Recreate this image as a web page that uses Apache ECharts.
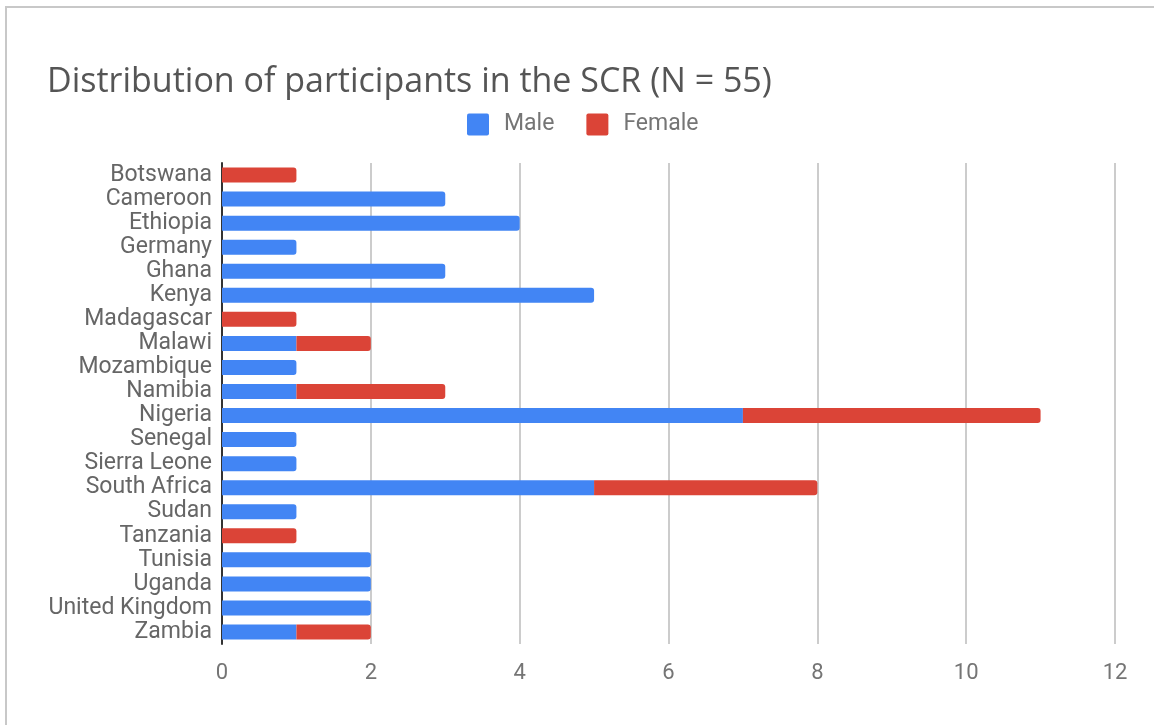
<!DOCTYPE html>
<html>
<head>
<meta charset="utf-8">
<title>Distribution of participants in the SCR</title>
<script src="https://cdn.jsdelivr.net/npm/echarts@6/dist/echarts.min.js"></script>
<style>
    html, body { margin: 0; padding: 0; background: #fff; }
    .frame {
        position: absolute; left: 5px; top: 6px; width: 1149px; height: 719px;
        border-top: 2px solid #c8c8c8; border-left: 2px solid #c8c8c8;
        box-sizing: border-box;
    }
    .chart { position: absolute; left: 0; top: 0; width: 1154px; height: 725px; }
</style>
</head>
<body>
<div class="frame"></div>
<div class="chart"></div>
<script>
// 国家 (从上到下)
var countries = ['Botswana', 'Cameroon', 'Ethiopia', 'Germany', 'Ghana', 'Kenya', 'Madagascar',
    'Malawi', 'Mozambique', 'Namibia', 'Nigeria', 'Senegal', 'Sierra Leone', 'South Africa',
    'Sudan', 'Tanzania', 'Tunisia', 'Uganda', 'United Kingdom', 'Zambia'];
var male   = [0, 3, 4, 1, 3, 5, 0, 1, 1, 1, 7, 1, 1, 5, 1, 0, 2, 2, 2, 1];
var female = [1, 0, 0, 0, 0, 0, 1, 1, 0, 2, 4, 0, 0, 3, 0, 1, 0, 0, 0, 1];
var xTicks = [0, 2, 4, 6, 8, 10, 12];

var chart = echarts.init(document.querySelector('.chart'));

// 最右边那段圆角
var round = [0, 3, 3, 0];
var maleData = male.map(function (v, i) {
    return female[i] === 0 ? { value: v, itemStyle: { borderRadius: round } } : v;
});
var femaleData = female.map(function (v) {
    return { value: v, itemStyle: { borderRadius: round } };
});

// 图例方块 (小圆角)
var legendIcon = 'path://M2,0 L20,0 Q22,0 22,2 L22,20 Q22,22 20,22 L2,22 Q0,22 0,20 L0,2 Q0,0 2,0 Z';

var option = {
    animation: false,
    title: {
        text: 'Distribution of participants in the SCR (N = 55)',
        left: 42,
        top: 60,
        textStyle: {
            fontFamily: 'Open Sans',
            fontWeight: 'normal',
            fontSize: 34,
            color: '#555'
        }
    },
    legend: {
        data: ['Male', 'Female'],
        left: 462,
        top: 108,
        icon: legendIcon,
        itemWidth: 22,
        itemHeight: 22,
        itemGap: 32,
        textStyle: { fontFamily: 'Roboto', fontSize: 23, color: '#757575', padding: [0, 0, 0, 10] }
    },
    grid: { left: 222, right: 39, top: 163, bottom: 81, containLabel: false },
    xAxis: {
        type: 'value',
        min: 0,
        max: 12,
        interval: 2,
        axisLine: { show: false },
        axisTick: { show: false },
        axisLabel: {
            margin: 18,
            fontFamily: 'Roboto',
            fontSize: 22,
            color: '#757575',
            formatter: function (v) { return xTicks.indexOf(v) >= 0 ? String(v) : ''; }
        },
        splitLine: {
            lineStyle: { color: '#cccccc', width: 2 },
            showMinLine: false
        }
    },
    yAxis: {
        type: 'category',
        inverse: true,
        data: countries,
        axisLine: { show: true, lineStyle: { color: '#333', width: 2 } },
        axisTick: { show: false },
        axisLabel: {
            interval: 0,
            margin: 10,
            fontFamily: 'Roboto',
            fontSize: 23,
            color: '#666'
        }
    },
    series: [
        {
            name: 'Male',
            type: 'bar',
            stack: 'total',
            barWidth: 15,
            itemStyle: { color: '#4285F4' },
            data: maleData
        },
        {
            name: 'Female',
            type: 'bar',
            stack: 'total',
            barWidth: 15,
            itemStyle: { color: '#DB4437' },
            data: femaleData
        }
    ]
};

chart.setOption(option);
</script>
</body>
</html>
